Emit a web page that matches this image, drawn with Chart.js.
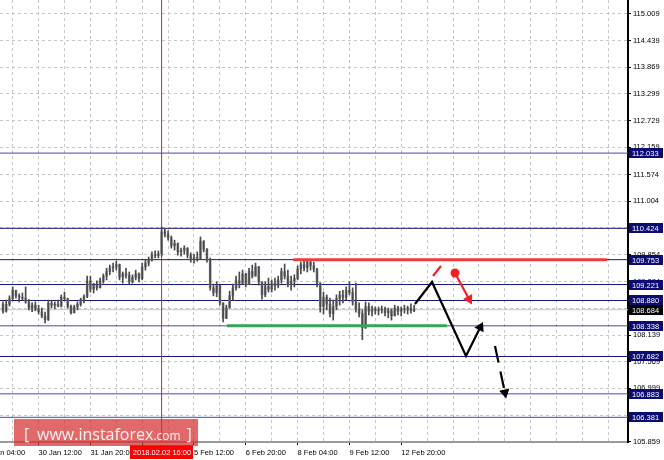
<!DOCTYPE html>
<html>
<head>
<meta charset="utf-8">
<script src="https://cdn.jsdelivr.net/npm/chart.js@4.4.1/dist/chart.umd.min.js"></script>
<style>
  html, body { margin: 0; padding: 0; background: #fff; }
  canvas { display: block; }
</style>
</head>
<body>
<canvas id="chart" width="664" height="460"></canvas>
<script>
// 2-hour bars, numbered from the 30 Jan 12:00 grid line; first bar is -3
const firstBar = -3;
const firstOpen = 108.80;
const highs = [
  108.85, 108.89, 108.98, 109.17, 109.10, 109.02, 109.04, 109.17, 108.90, 108.83,
  108.85, 108.78, 108.72, 108.63, 108.89, 108.87, 108.85, 108.89, 109.00, 109.06,
  108.93, 108.78, 108.78, 108.85, 108.93, 109.00, 109.40, 109.40, 109.25, 109.30,
  109.36, 109.45, 109.57, 109.64, 109.68, 109.72, 109.66, 109.49, 109.57, 109.49,
  109.43, 109.53, 109.47, 109.68, 109.75, 109.81, 109.92, 109.94, 109.94, 110.45,
  110.41, 110.37, 110.26, 110.17, 110.11, 110.00, 110.05, 110.01, 109.90, 109.87,
  109.92, 110.24, 110.16, 109.99, 109.79, 109.23, 109.28, 109.21, 108.83, 108.78,
  109.08, 109.23, 109.40, 109.49, 109.53, 109.46, 109.57, 109.64, 109.68, 109.61,
  109.28, 109.28, 109.36, 109.32, 109.36, 109.40, 109.57, 109.66, 109.53, 109.40,
  109.43, 109.62, 109.70, 109.75, 109.75, 109.75, 109.70, 109.57, 109.26, 109.06,
  109.00, 108.93, 108.89, 109.00, 109.08, 109.10, 109.17, 109.28, 109.15, 109.25,
  108.83, 108.68, 108.85, 108.83, 108.76, 108.74, 108.74, 108.76, 108.74, 108.72,
  108.70, 108.78, 108.76, 108.74, 108.78, 108.76, 108.81, 108.78
];
const lows = [
  108.61, 108.63, 108.76, 108.90, 108.93, 108.85, 108.89, 108.82, 108.68, 108.64,
  108.66, 108.59, 108.51, 108.40, 108.45, 108.72, 108.70, 108.74, 108.74, 108.89,
  108.72, 108.59, 108.61, 108.68, 108.76, 108.83, 108.94, 109.06, 109.04, 109.10,
  109.15, 109.25, 109.32, 109.43, 109.49, 109.53, 109.32, 109.25, 109.36, 109.23,
  109.25, 109.32, 109.28, 109.32, 109.53, 109.62, 109.72, 109.79, 109.79, 109.83,
  110.24, 110.17, 110.00, 109.96, 109.85, 109.83, 109.87, 109.79, 109.70, 109.68,
  109.72, 109.76, 109.92, 109.70, 109.10, 108.98, 108.96, 108.78, 108.42, 108.49,
  108.72, 108.89, 109.10, 109.15, 109.23, 109.17, 109.22, 109.36, 109.40, 109.21,
  108.91, 108.96, 109.06, 109.06, 109.10, 109.15, 109.25, 109.34, 109.17, 109.10,
  109.17, 109.32, 109.45, 109.51, 109.49, 109.53, 109.49, 109.17, 108.63, 108.59,
  108.68, 108.53, 108.46, 108.68, 108.78, 108.83, 108.89, 109.00, 108.78, 108.63,
  108.53, 108.04, 108.28, 108.57, 108.55, 108.59, 108.57, 108.61, 108.55, 108.51,
  108.46, 108.55, 108.57, 108.55, 108.61, 108.59, 108.61, 108.64
];
const closes = [
  108.65, 108.80, 108.92, 109.10, 108.98, 108.95, 108.93, 108.85, 108.72, 108.78,
  108.70, 108.64, 108.55, 108.47, 108.82, 108.78, 108.80, 108.76, 108.95, 108.92,
  108.75, 108.62, 108.74, 108.80, 108.90, 108.96, 109.30, 109.12, 109.20, 109.15,
  109.30, 109.40, 109.50, 109.58, 109.60, 109.65, 109.38, 109.45, 109.42, 109.28,
  109.38, 109.45, 109.35, 109.60, 109.68, 109.74, 109.86, 109.84, 109.88, 110.35,
  110.30, 110.22, 110.05, 110.10, 109.92, 109.95, 110.00, 109.85, 109.76, 109.80,
  109.78, 110.15, 109.98, 109.75, 109.15, 109.05, 109.20, 108.83, 108.50, 108.72,
  108.98, 109.15, 109.30, 109.25, 109.45, 109.22, 109.50, 109.40, 109.60, 109.28,
  109.00, 109.18, 109.12, 109.25, 109.20, 109.32, 109.50, 109.40, 109.22, 109.30,
  109.35, 109.55, 109.65, 109.58, 109.70, 109.62, 109.55, 109.25, 108.75, 108.95,
  108.80, 108.60, 108.75, 108.92, 109.00, 108.95, 109.10, 109.05, 108.85, 108.70,
  108.60, 108.30, 108.75, 108.65, 108.70, 108.66, 108.68, 108.70, 108.62, 108.66,
  108.55, 108.72, 108.65, 108.70, 108.68, 108.72, 108.66, 108.684
];

// axis labels
const timeTicks = [-8, 8, 24, 40, 56, 72, 88, 104, 120];
const timeLabels = ['29 Jan 04:00', '30 Jan 12:00', '31 Jan 20:00', '2 Feb 04:00', '5 Feb 12:00',
  '6 Feb 20:00', '8 Feb 04:00', '9 Feb 12:00', '12 Feb 20:00'];
const priceTicks = [115.009, 114.439, 113.869, 113.299, 112.729, 112.159, 111.574, 111.004,
  110.434, 109.854, 109.284, 108.714, 108.139, 107.569, 106.999, 106.429, 105.859];

// horizontal levels with tags on the price axis
const levels = [112.033, 110.424, 109.753, 109.221, 108.880, 108.338, 107.682, 106.883, 106.381];
const lastPrice = 108.684;
const cursorBar = 46;
const cursorLabel = '2018.02.02 16:00';

// analyst marks
const resistanceLevel = 109.753;
const resistanceSpan = [86.6, 183.6];
const supportLevel = 108.338;
const supportSpan = [66.2, 134.1];
const pathX = [124.26, 129.51, 140.01, 144.43];
const pathY = [108.805, 109.276, 107.693, 108.307];
const redDashX = [129.82, 132.29];
const redDashY = [109.404, 109.618];
const redArrowX = [136.62, 140.97];
const redArrowY = [109.468, 108.908];
const dashArrowX = [148.97, 152.03];
const dashArrowY = [107.907, 106.910];

// visible window
const xMin = -3.92, xMax = 190.05;
const yMin = 105.853, yMax = 115.308;

const darkLevels = [110.424, 109.753, 109.221, 108.880, 107.682];
const tickFont = { family: '"Liberation Sans", Arial, sans-serif', size: 7.5 };

const wickData = [];
const bodyData = [];
let open = firstOpen;
closes.forEach((close, k) => {
  const x = firstBar + k;
  wickData.push({ x: x, y: [lows[k], highs[k]] });
  bodyData.push({ x: x, y: [open, close] });
  open = close;
});

const pts = (xs, ys) => xs.map((x, k) => ({ x: x, y: ys[k] }));
const hline = (v, span) => [{ x: span[0], y: v }, { x: span[1], y: v }];

function lineSet(data, color, width, extra) {
  return Object.assign({
    type: 'line', data: data, borderColor: color, backgroundColor: color,
    borderWidth: width, pointRadius: 0, pointBorderWidth: 0, pointHoverRadius: 0,
    fill: false, tension: 0
  }, extra || {});
}

const datasets = [
  lineSet(pts(pathX, pathY), '#000', 2.2, {
    order: 0, pointRadius: [0, 0, 0, 6], pointStyle: 'triangle',
    pointRotation: [0, 0, 0, 27], pointBackgroundColor: '#000'
  }),
  lineSet(pts(redDashX, redDashY), '#ee2222', 2.2, { order: 0 }),
  lineSet(pts(redArrowX, redArrowY), '#ee2222', 2.2, {
    order: 0, pointRadius: [4.5, 6], pointStyle: ['circle', 'triangle'],
    pointRotation: [0, 151], pointBackgroundColor: '#ee2222'
  }),
  lineSet(pts(dashArrowX, dashArrowY), '#000', 2.2, {
    order: 0, borderDash: [17, 9], pointRadius: [0, 6], pointStyle: 'triangle',
    pointRotation: [0, 168], pointBackgroundColor: '#000'
  }),
  lineSet(hline(resistanceLevel, resistanceSpan), '#f03c3c', 3, { order: 1 }),
  lineSet(hline(supportLevel, supportSpan), '#35a455', 3, { order: 1 }),
  { type: 'bar', data: wickData, backgroundColor: '#4a4a4a', barThickness: 1, grouped: false, order: 2 },
  { type: 'bar', data: bodyData, backgroundColor: '#8c8c8c', barThickness: 2, grouped: false, order: 3 },
  lineSet([{ x: cursorBar, y: yMin }, { x: cursorBar, y: yMax }], '#e02020', 1, { order: 4 }),
  lineSet(hline(lastPrice, [xMin, xMax]), '#c4c4c4', 1, { order: 6 })
];
levels.forEach((v) => {
  datasets.push(lineSet(hline(v, [xMin, xMax]),
    darkLevels.includes(v) ? '#14146e' : '#4848b4', 1, { order: 5 }));
});

const overlay = {
  id: 'overlay',
  afterDraw(chart) {
    const { ctx, chartArea: area, scales: { x, y } } = chart;
    ctx.save();
    ctx.font = '7.5px "Liberation Sans", Arial, sans-serif';
    ctx.textBaseline = 'middle';
    ctx.textAlign = 'left';
    const tag = (v, bg) => {
      const py = Math.round(y.getPixelForValue(v));
      ctx.fillStyle = bg;
      ctx.fillRect(area.right + 1, py - 5, 34, 10);
      ctx.fillStyle = '#fff';
      ctx.fillText(v.toFixed(3), area.right + 4, py + 0.5);
    };
    levels.forEach((v) => tag(v, '#0b0b72'));
    tag(lastPrice, '#000');

    // first time label, cut off by the left edge
    ctx.fillStyle = '#000';
    ctx.fillText(timeLabels[0], x.getPixelForValue(timeTicks[0]) - 5, area.bottom + 10.5);

    // cursor time tag
    const cx = Math.round(x.getPixelForValue(cursorBar));
    ctx.fillStyle = '#ff0000';
    ctx.fillRect(cx - 32, area.bottom + 3, 63, 14);
    ctx.fillStyle = '#fff';
    ctx.textAlign = 'center';
    ctx.fillText(cursorLabel, cx, area.bottom + 10.5);

    // watermark
    ctx.fillStyle = 'rgba(213, 47, 47, 0.72)';
    ctx.fillRect(14, 419, 184, 27);
    ctx.fillStyle = 'rgba(255, 255, 255, 0.92)';
    ctx.textAlign = 'left';
    ctx.textBaseline = 'alphabetic';
    ctx.font = '16px "Open Sans", sans-serif';
    ctx.fillText('[', 24, 440);
    const site = 'www.instaforex';
    ctx.fillText(site, 37, 440);
    const endSite = 37 + ctx.measureText(site).width;
    ctx.font = '12px "Open Sans", sans-serif';
    ctx.fillText('.com', endSite, 440);
    const endCom = endSite + ctx.measureText('.com').width;
    ctx.font = '16px "Open Sans", sans-serif';
    ctx.fillText(']', endCom + 6, 440);
    ctx.restore();
  }
};

const gridSteps = [];
for (let v = 0; v <= xMax; v += 8) gridSteps.push(v);

const noPad = (s) => { s.paddingLeft = 0; s.paddingRight = 0; s.paddingTop = 0; s.paddingBottom = 0; };

new Chart(document.getElementById('chart'), {
  type: 'bar',
  data: { datasets: datasets },
  plugins: [overlay],
  options: {
    responsive: false,
    animation: false,
    devicePixelRatio: 1,
    events: [],
    layout: { padding: 0, autoPadding: false },
    plugins: { legend: { display: false }, tooltip: { enabled: false } },
    scales: {
      x: {
        type: 'linear', min: xMin, max: xMax, bounds: 'data', offset: false,
        grid: {
          color: '#c6c6c6', offset: false, tickLength: 3,
          tickColor: (c) => (c.tick && timeTicks.includes(c.tick.value)) ? '#000' : 'rgba(0,0,0,0)'
        },
        border: { color: '#9a9a9a', width: 2, dash: [3, 3] },
        ticks: {
          autoSkip: false, maxRotation: 0, minRotation: 0, align: 'start', padding: 3,
          color: '#000', font: tickFont,
          callback: (v) => { const k = timeTicks.indexOf(v); return k >= 0 ? timeLabels[k] : ''; }
        },
        afterBuildTicks: (s) => { s.ticks = gridSteps.map((v) => ({ value: v })); },
        afterFit: (s) => { s.height = 18; noPad(s); }
      },
      y: {
        type: 'linear', position: 'right', min: yMin, max: yMax, bounds: 'data',
        grid: { color: '#c6c6c6', tickLength: 3, tickColor: '#000' },
        border: { color: '#000', width: 2, dash: [3, 3] },
        ticks: {
          autoSkip: false, padding: 2, color: '#000', font: tickFont,
          callback: (v) => Number(v).toFixed(3)
        },
        afterBuildTicks: (s) => { s.ticks = priceTicks.map((v) => ({ value: v })); },
        afterFit: (s) => { s.width = 36; noPad(s); }
      }
    }
  }
});
</script>
</body>
</html>
